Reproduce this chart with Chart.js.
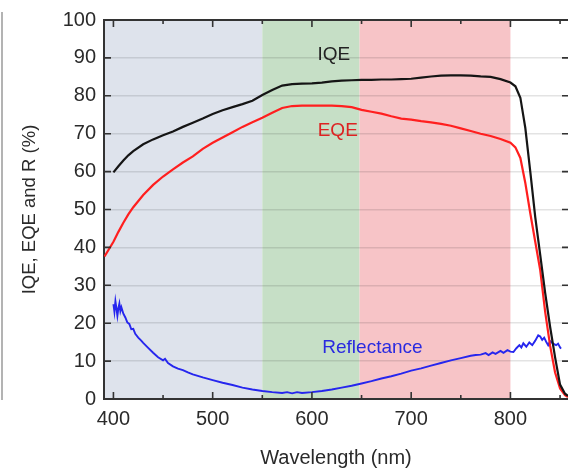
<!DOCTYPE html>
<html>
<head>
<meta charset="utf-8">
<script src="https://cdn.jsdelivr.net/npm/chart.js@4"></script>
<style>
  html, body { margin: 0; padding: 0; background: #fff; }
  #wrap { width: 568px; height: 474px; position: relative; }
</style>
</head>
<body>
<div id="wrap"><canvas id="grafico"></canvas></div>
<script>
// wavelength grid (nm) for IQE / EQE
const lambda = [391, 400, 405, 410, 415, 420, 430, 440, 450, 460, 470, 480, 490, 500, 510, 520, 530, 540, 550,
  560, 570, 580, 590, 600, 610, 620, 630, 640, 650, 660, 670, 680, 690, 700, 710, 720, 730, 740,
  750, 760, 770, 780, 790, 800, 805, 810, 815, 820, 825, 830, 835, 840, 845, 850, 855, 858];

const iqe = [null, 59.8, 61.4, 62.9, 64.3, 65.4, 67.2, 68.5, 69.6, 70.6, 71.8, 72.9, 74.0, 75.2, 76.2, 77.0, 77.8, 78.7, 80.2,
  81.5, 82.7, 83.1, 83.2, 83.3, 83.5, 83.8, 84.0, 84.1, 84.2, 84.2, 84.3, 84.3, 84.4, 84.5, 84.8, 85.1, 85.3, 85.4,
  85.4, 85.3, 85.1, 85.0, 84.4, 83.5, 82.5, 79.5, 71.5, 60.0, 48.0, 38.0, 28.0, 19.0, 11.0, 3.8, 1.4, 0.8];

const eqe = [37.6, 41.5, 44.1, 46.5, 48.7, 50.6, 53.8, 56.5, 58.7, 60.6, 62.4, 64.0, 66.0, 67.6, 69.0, 70.4, 71.8, 73.0, 74.2,
  75.5, 76.8, 77.3, 77.4, 77.4, 77.4, 77.4, 77.3, 77.0, 76.3, 75.8, 75.3, 74.6, 74.0, 73.7, 73.3, 73.0, 72.6, 72.1,
  71.4, 70.7, 70.0, 69.4, 68.6, 67.6, 66.4, 63.6, 57.0, 49.0, 41.5, 34.0, 23.0, 14.0, 7.0, 2.8, 1.0, 0.5];

// reflectance curve (nm, %)
const lambdaR = [400, 401, 402, 403, 404, 405, 406, 407, 408, 410, 412, 414, 416, 418, 420, 422, 425, 428, 430,
  435, 440, 445, 450, 452, 455, 460, 465, 470, 475, 480, 490, 500, 510, 520, 530, 540, 550, 560, 570, 575,
  580, 585, 590, 600, 610, 620, 630, 640, 650, 660, 670, 680, 690, 700, 710, 720, 730, 740, 750, 760, 765,
  770, 775, 778, 782, 785, 790, 793, 797, 800, 803, 806, 809, 811, 813, 816, 819, 822, 825, 828, 830, 832,
  834, 836, 838, 840, 843, 846, 848, 850, 851];
const refl = [25.0, 23.0, 25.8, 24.0, 22.0, 24.0, 25.2, 23.2, 24.2, 22.5, 21.5, 20.2, 19.8, 18.4, 18.5, 17.2, 16.2,
  15.4, 14.8, 13.5, 12.2, 11.0, 10.2, 10.6, 9.5, 8.6, 8.0, 7.6, 7.0, 6.5, 5.7, 5.0, 4.3, 3.7, 3.0, 2.5, 2.1, 1.8,
  1.6, 1.8, 1.5, 1.8, 1.6, 1.8, 2.1, 2.5, 3.0, 3.5, 4.1, 4.7, 5.4, 6.0, 6.7, 7.5, 8.1, 8.8, 9.5, 10.2, 10.8, 11.4,
  11.6, 11.7, 12.1, 11.6, 12.3, 11.9, 12.7, 12.2, 12.9, 12.5, 12.4, 13.4, 14.2, 13.6, 14.7, 13.8, 14.9, 14.2,
  15.4, 16.8, 16.5, 15.6, 16.2, 15.1, 14.2, 15.3, 14.6, 14.2, 14.6, 13.6, 13.3];

const xTicks = [400, 500, 600, 700, 800];
const xMinor = [450, 550, 650, 750, 850];
const yTicks = [0, 10, 20, 30, 40, 50, 60, 70, 80, 90, 100];

// shaded spectral bands: [from, to]
const bandas = [[390.5, 550], [550, 648], [648, 800]];
const coresBandas = ['#dee3ec', '#c6dfc6', '#f7c4c7'];

const rotulos = ['IQE', 'EQE', 'Reflectance'];

const pares = (xs, ys) => xs.map((x, i) => ({ x: x, y: ys[i] }));

const fundo = {
  id: 'fundo',
  beforeDraw(chart) {
    const { ctx, chartArea: a, scales: { x } } = chart;
    ctx.save();
    bandas.forEach((b, i) => {
      const x0 = x.getPixelForValue(b[0]);
      const x1 = x.getPixelForValue(b[1]);
      ctx.fillStyle = coresBandas[i];
      ctx.fillRect(x0, a.top, x1 - x0, a.bottom - a.top);
    });
    // thin frame line at far left of the figure
    ctx.strokeStyle = '#9a9a9a';
    ctx.lineWidth = 1.5;
    ctx.beginPath();
    ctx.moveTo(2, 12);
    ctx.lineTo(2, 400);
    ctx.stroke();
    ctx.restore();
  }
};

const moldura = {
  id: 'moldura',
  afterDatasetsDraw(chart) {
    const { ctx, chartArea: a, scales: { x, y } } = chart;
    ctx.save();
    ctx.strokeStyle = '#333';
    ctx.lineWidth = 2;
    ctx.beginPath();
    ctx.moveTo(a.left, a.top);
    ctx.lineTo(a.right, a.top);
    ctx.stroke();
    ctx.lineWidth = 1.6;
    ctx.beginPath();
    xTicks.forEach(v => {
      const p = x.getPixelForValue(v);
      ctx.moveTo(p, a.bottom); ctx.lineTo(p, a.bottom - 7);
      ctx.moveTo(p, a.top); ctx.lineTo(p, a.top + 7);
    });
    xMinor.forEach(v => {
      const p = x.getPixelForValue(v);
      ctx.moveTo(p, a.bottom); ctx.lineTo(p, a.bottom - 4);
      ctx.moveTo(p, a.top); ctx.lineTo(p, a.top + 4);
    });
    yTicks.forEach(v => {
      const p = y.getPixelForValue(v);
      ctx.moveTo(a.left, p); ctx.lineTo(a.left + 7, p);
      ctx.moveTo(a.right, p); ctx.lineTo(a.right - 6, p);
    });
    ctx.stroke();

    // curve labels
    ctx.font = '19px "Liberation Sans", Arial, sans-serif';
    ctx.textAlign = 'center';
    ctx.textBaseline = 'middle';
    const pos = [[622, 90.9, '#222'], [626, 70.8, '#dd2222'], [661, 13.6, '#2a2ae0']];
    rotulos.forEach((t, i) => {
      ctx.fillStyle = pos[i][2];
      ctx.fillText(t, x.getPixelForValue(pos[i][0]), y.getPixelForValue(pos[i][1]));
    });
    ctx.restore();
  }
};

const fonte = { family: '"Liberation Sans", Arial, sans-serif', size: 20 };

const ctx = document.getElementById('grafico').getContext('2d');
const myChart = new Chart(ctx, {
  type: 'line',
  data: {
    datasets: [
      { label: 'IQE', data: pares(lambda, iqe), borderColor: '#151515', borderWidth: 2.2 },
      { label: 'EQE', data: pares(lambda, eqe), borderColor: '#ff1f1f', borderWidth: 2.2 },
      { label: 'Reflectance', data: pares(lambdaR, refl), borderColor: '#2626ee', borderWidth: 1.9 }
    ]
  },
  options: {
    responsive: true,
    maintainAspectRatio: false,
    animation: false,
    elements: { point: { radius: 0 }, line: { tension: 0 } },
    layout: { padding: { top: 16, right: 0, left: 0, bottom: 0 } },
    scales: {
      x: {
        type: 'linear',
        min: 390.5,
        max: 858,
        afterBuildTicks: s => { s.ticks = xTicks.map(v => ({ value: v })); },
        afterFit: s => { s.height = 75; },
        grid: { display: false, drawTicks: false },
        border: { display: true, color: '#333', width: 2 },
        ticks: { font: fonte, color: '#2a2a2a', padding: 8, maxRotation: 0 },
        title: { display: true, text: 'Wavelength (nm)', font: fonte, color: '#2a2a2a', padding: { top: 0, bottom: 4 } }
      },
      y: {
        min: 0,
        max: 100,
        afterBuildTicks: s => { s.ticks = yTicks.map(v => ({ value: v })); },
        afterFit: s => { s.width = 104; },
        grid: { color: 'rgba(0,0,0,0.11)', lineWidth: 1.5, drawTicks: false },
        border: { display: true, color: '#333', width: 2 },
        ticks: { font: fonte, color: '#2a2a2a', padding: 8 },
        title: { display: true, text: 'IQE, EQE and R (%)', font: { family: fonte.family, size: 18.5 }, color: '#2a2a2a', padding: { top: 19, bottom: 0 } }
      }
    },
    plugins: {
      legend: { display: false },
      tooltip: { enabled: false }
    }
  },
  plugins: [fundo, moldura]
});
</script>
</body>
</html>
